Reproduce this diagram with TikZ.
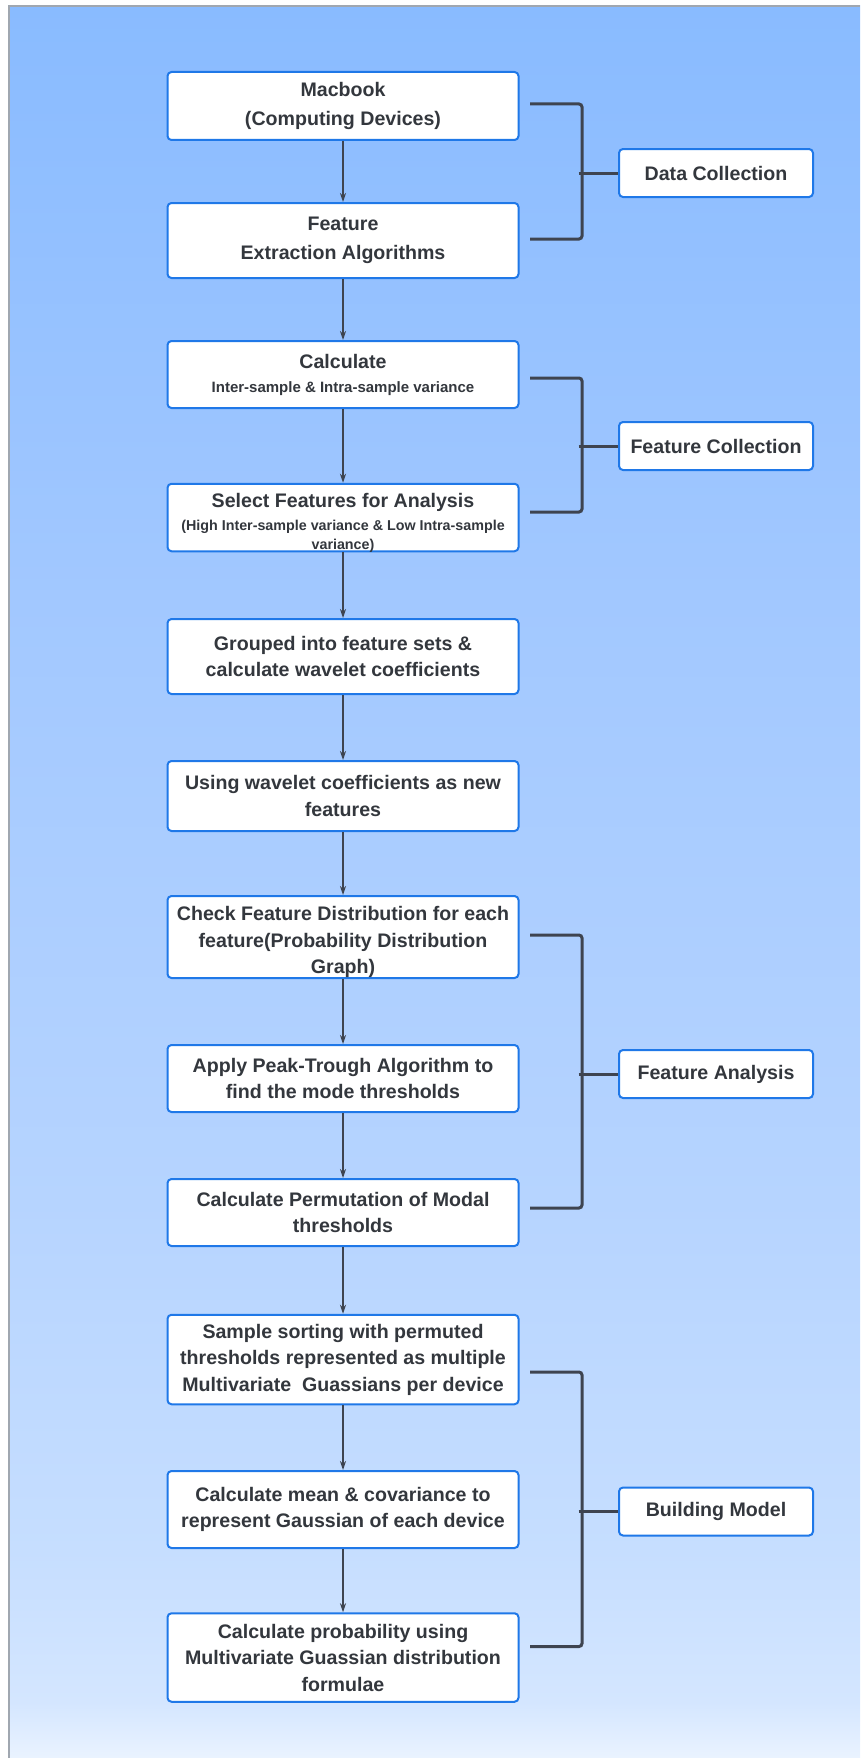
\documentclass[tikz,border=0pt]{standalone}
\usepackage{fontspec}
\setmainfont{Liberation Sans}
\usetikzlibrary{arrows.meta,calc}

\definecolor{boxblue}{HTML}{1F78E8}
\definecolor{ink}{HTML}{33373D}
\definecolor{wire}{HTML}{3E4450}
\definecolor{framegray}{HTML}{A0A7B0}
\definecolor{bgA}{HTML}{89BBFF}
\definecolor{bgB}{HTML}{A2C8FF}
\definecolor{bgC}{HTML}{B6D4FF}
\definecolor{bgD}{HTML}{C6DEFF}
\definecolor{bgE}{HTML}{D4E6FF}
\definecolor{bgF}{HTML}{EAF3FF}

% backdrop: light blue at the top fading towards white at the bottom
\pgfdeclareverticalshading{backdrop}{100bp}{%
  color(0bp)=(bgF); color(25bp)=(bgF); color(26.6bp)=(bgE);
  color(30.9bp)=(bgD); color(40.9bp)=(bgC); color(58bp)=(bgB);
  color(75bp)=(bgA); color(100bp)=(bgA)}

\newcommand{\smalltxt}{\fontsize{15}{18}\selectfont}
\newcommand{\tinytxt}{\fontsize{14.3}{18}\selectfont}

\tikzset{
  steptext/.style={text=ink, align=center, inner sep=0pt,
    font=\bfseries\fontsize{19.6}{26.5}\selectfont},
  stepbox/.style={steptext, draw=boxblue, line width=2pt, fill=white,
    rounded corners=4pt, minimum width=351pt},
  phasebox/.style={stepbox, minimum width=194pt, minimum height=48pt},
  flow/.style={draw=wire, line width=1.4pt, -{Stealth[length=9pt,width=6pt]}},
  brace/.style={draw=wire, line width=3pt, rounded corners=3pt},
}

\begin{document}
\begin{tikzpicture}[x=1pt, y=-1pt]
\useasboundingbox (0,0) rectangle (860,1758);

% background panel
\shade[shading=backdrop] (9,6) rectangle (860,1758);
\draw[framegray, line width=1.3pt] (9,1758) -- (9,6) -- (860,6);

% main steps
\node[stepbox, minimum height=68pt] (mac) at (343,106)
  {Macbook\\[2.5pt](Computing Devices)};
\node[stepbox, minimum height=75pt] (feat) at (343,240.5)
  {Feature\\[2pt]Extraction Algorithms};
\node[stepbox, minimum height=67pt] (calc) at (343,374.5)
  {Calculate\\[-2.5pt]\smalltxt Inter-sample \& Intra-sample variance};
\node[stepbox, minimum height=67.5pt] (sel) at (343,517.5) {};
\node[steptext] (selT) at ([yshift=-5.5pt]sel.center)
  {Select Features for Analysis\\[-3.5pt]\tinytxt (High Inter-sample variance \& Low Intra-sample\\[-8pt]\tinytxt variance)};
\node[stepbox, minimum height=75pt] (grp) at (343,656.5)
  {Grouped into feature sets \&\\calculate wavelet coefficients};
\node[stepbox, minimum height=70pt] (use) at (343,796)
  {Using wavelet coefficients as new\\features};
\node[stepbox, minimum height=82pt] (chk) at (343,937) {};
\node[steptext] (chkT) at ([yshift=-5pt]chk.center)
  {Check Feature Distribution for each\\feature(Probability Distribution\\Graph)};
\node[stepbox, minimum height=67pt] (peak) at (343,1078.5)
  {Apply Peak-Trough Algorithm to\\find the mode thresholds};
\node[stepbox, minimum height=67pt] (perm) at (343,1212.5)
  {Calculate Permutation of Modal\\thresholds};
\node[stepbox, minimum height=89.5pt] (sort) at (343,1359.5)
  {Sample sorting with permuted\\thresholds represented as multiple\\Multivariate\ \ Guassians per device};
\node[stepbox, minimum height=77pt] (mean) at (343,1509.5)
  {Calculate mean \& covariance to\\represent Gaussian of each device};
\node[stepbox, minimum height=88.5pt] (prob) at (343,1657.5)
  {Calculate probability using\\Multivariate Guassian distribution\\formulae};

% phase labels
\node[phasebox] (dc) at (716,173) {Data Collection};
\node[phasebox] (fc) at (716,446) {Feature Collection};
\node[phasebox] (fa) at (716,1074) {Feature Analysis};
\node[phasebox] (bm) at (716,1511.5) {Building Model};

% flow arrows
\draw[flow] (mac) -- (feat);
\draw[flow] (feat) -- (calc);
\draw[flow] (calc) -- (sel);
\draw[flow] (sel) -- (grp);
\draw[flow] (grp) -- (use);
\draw[flow] (use) -- (chk);
\draw[flow] (chk) -- (peak);
\draw[flow] (peak) -- (perm);
\draw[flow] (perm) -- (sort);
\draw[flow] (sort) -- (mean);
\draw[flow] (mean) -- (prob);

% grouping brackets
\draw[brace] ([xshift=10.5pt,yshift=2pt]mac.east) -| ([xshift=62.5pt,yshift=1.5pt]feat.east) -- ([xshift=10.5pt,yshift=1.5pt]feat.east);
\draw[brace] ([xshift=59pt]mac.east |- dc.west) -- (dc.west);

\draw[brace] ([xshift=10.5pt,yshift=-3.5pt]calc.east) -| ([xshift=62.5pt,yshift=5.5pt]sel.east) -- ([xshift=10.5pt,yshift=5.5pt]sel.east);
\draw[brace] ([xshift=59pt]calc.east |- fc.west) -- (fc.west);

\draw[brace] ([xshift=10.5pt,yshift=2pt]chk.east) -| ([xshift=62.5pt,yshift=4.5pt]perm.east) -- ([xshift=10.5pt,yshift=4.5pt]perm.east);
\draw[brace] ([xshift=59pt]chk.east |- fa.west) -- (fa.west);

\draw[brace] ([xshift=10.5pt,yshift=-12.5pt]sort.east) -| ([xshift=62.5pt,yshift=11pt]prob.east) -- ([xshift=10.5pt,yshift=11pt]prob.east);
\draw[brace] ([xshift=59pt]sort.east |- bm.west) -- (bm.west);
\end{tikzpicture}
\end{document}
